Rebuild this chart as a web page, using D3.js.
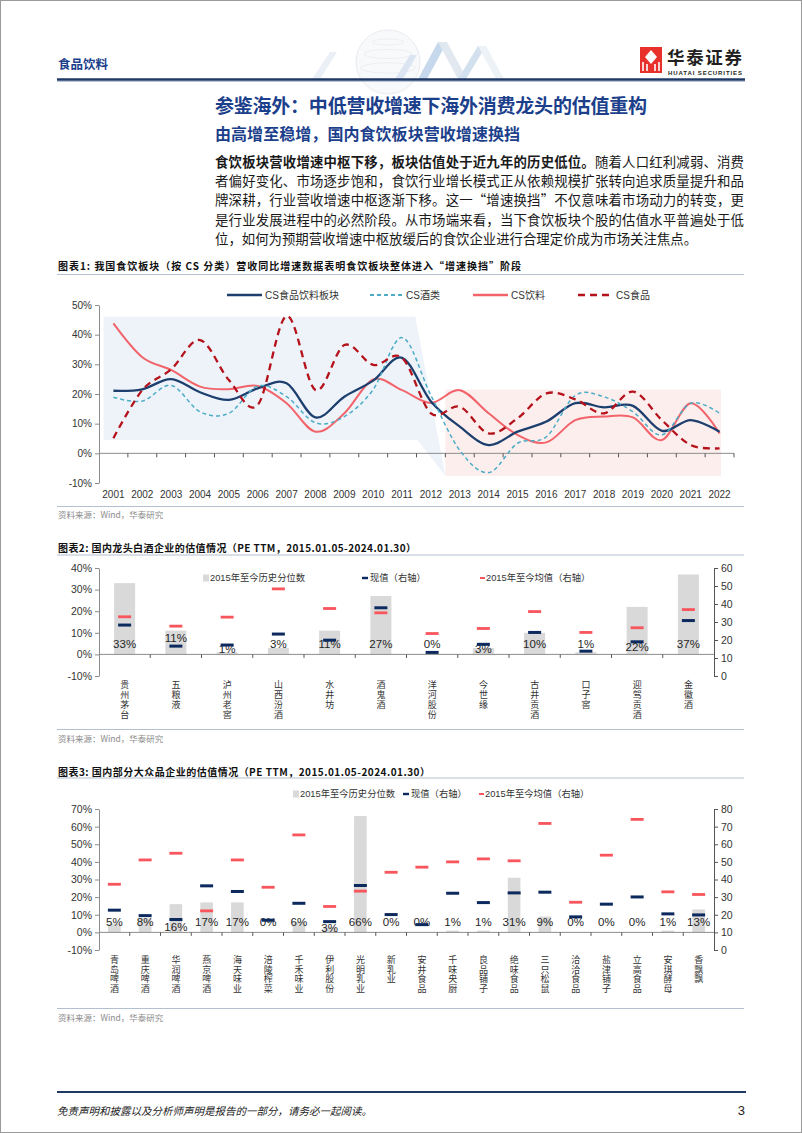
<!DOCTYPE html>
<html><head><meta charset="utf-8">
<script src="https://cdn.jsdelivr.net/npm/d3@7"></script>
<style>
body{margin:0;background:#fff}
svg{display:block}
text{font-family:"Liberation Sans","Noto Sans CJK SC",sans-serif}
</style>
</head><body>
<svg id="c" width="802" height="1133"></svg>
<script>
// ---------------- DATA ----------------
const years = d3.range(2001, 2023);
const seriesNames = ["CS食品饮料板块", "CS酒类", "CS饮料", "CS食品"];
const foodBev  = [21.1,21.6,25.0,20.6,18.0,21.9,23.6,12.1,19.1,24.5,32.2,17.5,9.0,2.8,7.3,10.7,16.9,15.5,16.0,7.6,11.2,7.3];
const liquor   = [18.9,17.6,22.9,14.0,13.5,22.7,19.1,10.3,12.4,21.5,39.0,19.5,1.0,-6.5,3.4,5.6,19.5,19.0,14.0,6.2,16.9,13.5];
const beverage = [43.8,32.4,28.1,22.5,21.6,22.7,16.9,7.3,13.5,24.9,21.3,17.0,21.3,13.5,6.2,3.7,11.2,12.4,12.1,4.5,16.9,6.7];
const food     = [5.1,21.3,28.3,38.2,24.7,16.3,46.3,21.3,36.5,29.8,32.2,13.5,15.7,6.7,11.8,20.2,18.2,13.5,20.8,11.2,2.8,1.7];
const pctTicks1 = [-10,0,10,20,30,40,50];

const baijiu = ["贵州茅台","五粮液","泸州老窖","山西汾酒","水井坊","酒鬼酒","洋河股份","今世缘","古井贡酒","口子窖","迎驾贡酒","金徽酒"];
const pct2 = [33,11,1,3,11,27,0,3,10,1,22,37];
const cur2 = [28.3,16.6,17.2,23.3,19.9,37.9,13.1,17.6,24.2,13.8,19.0,30.8];
const avg2 = [32.9,27.7,32.7,48.4,37.5,35.1,23.6,26.4,35.8,24.2,26.8,36.9];
const leftTicks2 = [-10,0,10,20,30,40];
const rightTicks2 = [0,10,20,30,40,50,60];

const mass = ["青岛啤酒","重庆啤酒","华润啤酒","燕京啤酒","海天味业","涪陵榨菜","千禾味业","伊利股份","光明乳业","新乳业","安井食品","千味央厨","良品铺子","绝味食品","三只松鼠","洽洽食品","盐津铺子","立高食品","安琪酵母","香飘飘"];
const pct3 = [5,8,16,17,17,0,6,3,66,0,0,1,1,31,9,0,0,0,1,13];
const cur3 = [22.6,19.5,17.3,36.4,33.2,16.9,26.5,16.1,36.6,20.1,14.4,32.2,26.9,32.4,32.8,18.8,26.0,30.1,20.5,19.9];
const avg3 = [37.3,51.1,54.9,22.2,51.1,35.6,65.3,24.7,33.4,44.1,47.0,50.0,51.7,50.6,71.8,27.1,53.8,74.1,33.0,31.5];
const leftTicks3 = [-10,0,10,20,30,40,50,60,70];
const rightTicks3 = [0,10,20,30,40,50,60,70,80];

const legendBar = ["2015年至今历史分位数","现值（右轴）","2015年至今均值（右轴）"];

// label nudges (layout only)
const nudge2 = {"五粮液":-6,"泸州老窖":5,"今世缘":5,"迎驾贡酒":3};
const nudge3 = {"华润啤酒":5,"伊利股份":6};

// ---------------- DRAW ----------------
const svg = d3.select("#c");
const CJK = '"Noto Sans CJK SC","Liberation Sans",sans-serif';
const BLUE_T = "#1c3f8c";
const NAVY = "#1f3864";
const AX = "#8c8c8c";

svg.append("rect").attr("x",0.5).attr("y",0.5).attr("width",801).attr("height",1132)
  .attr("fill","#fff").attr("stroke","#9a9a9a");

// header decoration (globe)
const deco = svg.append("g").attr("opacity",0.5);
deco.append("circle").attr("cx",388).attr("cy",62).attr("r",32).attr("fill","#f3f5f8").attr("stroke","#c9ced6").attr("stroke-width",0.8);
[[-20,0.5],[-8,0.75],[6,0.85]].forEach(([dy,s])=>{
  deco.append("ellipse").attr("cx",388).attr("cy",62+dy).attr("rx",32*s).attr("ry",6*s)
   .attr("fill","none").attr("stroke","#c9ced6").attr("stroke-width",0.6);
});
deco.append("path").attr("d","M418,79 L438,42 L447,42 L427,79 Z").attr("fill","#8fb3da");
deco.append("path").attr("d","M438,42 L458,79 L467,79 L447,42 Z").attr("fill","#c4d3e3");
deco.append("path").attr("d","M458,79 L478,46 L486,46 L466,79 Z").attr("fill","#a9c3de");
deco.append("path").attr("d","M478,46 L496,79 L504,79 L486,46 Z").attr("fill","#dde6ef");
deco.append("path").attr("d","M312,79 L330,52 L337,52 L320,79 Z").attr("fill","#d6e2ee");
deco.append("path").attr("d","M395,79 L410,55 L417,55 L403,79 Z").attr("fill","#b8cde4");

// header text
svg.append("text").attr("x",58).attr("y",63).attr("dominant-baseline","central")
  .style("font-family",CJK).style("font-size","12.5px").style("font-weight","bold").attr("fill",BLUE_T).text("食品饮料");
svg.append("line").attr("x1",57).attr("x2",745).attr("y1",79.5).attr("y2",79.5).attr("stroke",NAVY).attr("stroke-width",2.5);
svg.append("line").attr("x1",57).attr("x2",745).attr("y1",81.5).attr("y2",81.5).attr("stroke","#b9c7dc").attr("stroke-width",1);

// logo
const logo = svg.append("g");
logo.append("rect").attr("x",640).attr("y",47).attr("width",22).attr("height",26).attr("fill","#e8312a");
logo.append("path").attr("d","M651,50 L657,57 L651,64 L645,57 Z").attr("fill","#fff");
logo.append("path").attr("d","M643,62 L643,71 M647,64 L647,71 M655,64 L655,71 M659,62 L659,71").attr("stroke","#fff").attr("stroke-width",1.6);
logo.append("text").attr("x",667).attr("y",63.5)
  .style("font-family",CJK).style("font-size","17.5px").style("font-weight","bold").attr("fill","#231f20")
  .attr("textLength",75).text("华泰证券");
logo.append("text").attr("x",668).attr("y",75.2)
  .style("font-size","6px").style("font-weight","bold").attr("fill","#231f20").attr("textLength",74).text("HUATAI SECURITIES");

// titles
svg.append("text").attr("x",215).attr("y",104).attr("dominant-baseline","central")
  .style("font-family",CJK).style("font-size","19px").style("font-weight","bold").attr("fill",BLUE_T)
  .attr("textLength",432).text("参鉴海外：中低营收增速下海外消费龙头的估值重构");
svg.append("text").attr("x",215).attr("y",133).attr("dominant-baseline","central")
  .style("font-family",CJK).style("font-size","16px").style("font-weight","bold").attr("fill",BLUE_T)
  .attr("textLength",305).text("由高增至稳增，国内食饮板块营收增速换挡");

const para = [
  [["食饮板块营收增速中枢下移，板块估值处于近九年的历史低位。",true],["随着人口红利减弱、消费",false]],
  [["者偏好变化、市场逐步饱和，食饮行业增长模式正从依赖规模扩张转向追求质量提升和品",false]],
  [["牌深耕，行业营收增速中枢逐渐下移。这一“增速换挡”不仅意味着市场动力的转变，更",false]],
  [["是行业发展进程中的必然阶段。从市场端来看，当下食饮板块个股的估值水平普遍处于低",false]],
  [["位，如何为预期营收增速中枢放缓后的食饮企业进行合理定价成为市场关注焦点。",false]]
];
para.forEach((segs,i)=>{
  const t = svg.append("text").attr("x",215).attr("y",160.5+i*19.4).attr("dominant-baseline","central")
    .style("font-family",CJK).style("font-size","13.4px").attr("fill","#1a1a1a");
  if(i<4) t.attr("textLength",529).attr("lengthAdjust","spacing");
  segs.forEach(([s,b])=>t.append("tspan").style("font-weight",b?"bold":"normal").text(s));
});

function chartHeader(y, text, len, lineY){
  svg.append("text").attr("x",58).attr("y",y).attr("dominant-baseline","central")
    .style("font-family",CJK).style("font-size","10px").style("font-weight","bold").attr("fill","#111")
    .attr("textLength",len).text(text);
  svg.append("line").attr("x1",57).attr("x2",744).attr("y1",lineY).attr("y2",lineY).attr("stroke","#b4bfcf").attr("stroke-width",1);
}
function source(lineY, textY){
  svg.append("line").attr("x1",57).attr("x2",744).attr("y1",lineY).attr("y2",lineY).attr("stroke","#b4bfcf").attr("stroke-width",1.2);
  svg.append("text").attr("x",58).attr("y",textY).attr("dominant-baseline","central")
    .style("font-family",CJK).style("font-size","8.5px").attr("fill","#8a8a8a").text("资料来源：Wind，华泰研究");
}

// ---------------- CHART 1 ----------------
chartHeader(265,"图表1:  我国食饮板块（按 CS 分类）营收同比增速数据表明食饮板块整体进入“增速换挡”阶段",463,274.5);
source(506.5,513.5);
{
  const g = svg.append("g");
  const x = d3.scaleBand().domain(years).range([99,734]);
  const bw = x.bandwidth();
  const xc = d => x(d)+bw/2;
  const xv = d3.scaleLinear().domain([2001,2022]).range([xc(2001),xc(2022)]);
  const y = d3.scaleLinear().domain([-10,50]).range([483,305]);

  // shaded phases
  g.append("path").attr("fill","#eef3fa")
    .attr("d", d3.line()([[xv(2000.66),y(46)],[xv(2011.46),y(46)],[xv(2012.5),y(-7.6)],[xv(2011.53),y(4.5)],[xv(2000.66),y(4.5)]]));
  g.append("rect").attr("fill","#fdeeee")
    .attr("x",xv(2012.5)).attr("width",xv(2022.05)-xv(2012.5))
    .attr("y",y(21.5)).attr("height",y(-7.6)-y(21.5));

  // left axis
  const ya = g.append("g").attr("transform","translate(99,0)")
    .call(d3.axisLeft(y).tickValues(pctTicks1).tickFormat(d=>d+"%").tickSize(4).tickSizeOuter(0));
  ya.select(".domain").attr("stroke",AX);
  ya.selectAll(".tick line").attr("stroke",AX);
  ya.selectAll(".tick text").attr("fill","#333").style("font-size","10px").attr("x",-7);

  // zero axis
  g.append("line").attr("x1",99).attr("x2",734).attr("y1",y(0)).attr("y2",y(0)).attr("stroke",AX);
  years.forEach((d,i)=>{ if(i>0) g.append("line").attr("x1",x(d)).attr("x2",x(d)).attr("y1",y(0)).attr("y2",y(0)+4).attr("stroke","#555"); });
  g.append("line").attr("x1",734).attr("x2",734).attr("y1",y(0)).attr("y2",y(0)+4).attr("stroke","#555");
  years.forEach(d=>{
    g.append("text").attr("x",xc(d)).attr("y",494).attr("text-anchor","middle").attr("dominant-baseline","central")
      .style("font-size","10px").attr("fill","#333").text(d);
  });

  const styles = [
    {data:foodBev, stroke:"#1d3f6e", w:2.3, dash:null},
    {data:liquor, stroke:"#4bacc6", w:1.5, dash:"4,3"},
    {data:beverage, stroke:"#f2636a", w:2, dash:null},
    {data:food, stroke:"#b5121b", w:2.3, dash:"7,5"}
  ];
  const line = d3.line().x((d,i)=>xc(years[i])).y(d=>y(d)).curve(d3.curveCatmullRom.alpha(0));
  [2,0,1,3].forEach(k=>{
    const s = styles[k];
    g.append("path").datum(s.data).attr("d",line).attr("fill","none")
      .attr("stroke",s.stroke).attr("stroke-width",s.w).attr("stroke-dasharray",s.dash);
  });

  // legend
  const lx = [[227,262],[370,403],[473,508],[578,613]];
  seriesNames.forEach((n,i)=>{
    const s = styles[i];
    g.append("line").attr("x1",lx[i][0]).attr("x2",lx[i][1]).attr("y1",295).attr("y2",295)
      .attr("stroke",s.stroke).attr("stroke-width",s.w+0.3).attr("stroke-dasharray",s.dash);
    g.append("text").attr("x",lx[i][1]+3).attr("y",295).attr("dominant-baseline","central")
      .style("font-size","10px").attr("fill","#333").text(n);
  });
}

// ---------------- BAR + MARK CHARTS ----------------
function markChart(cfg){
  const g = svg.append("g");
  const x = d3.scaleBand().domain(cfg.cats).range([99,714]);
  const bw = x.bandwidth();
  const xc = d => x(d)+bw/2;
  const yl = d3.scaleLinear().domain(cfg.lDomain).range([cfg.yBot,cfg.yTop]);
  const yr = d3.scaleLinear().domain(cfg.rDomain).range([cfg.yBot,cfg.yTop]);
  const barW = bw*0.41, markW = 13;

  const la = g.append("g").attr("transform","translate(99,0)")
    .call(d3.axisLeft(yl).tickValues(cfg.lTicks).tickFormat(d=>d+"%").tickSize(4).tickSizeOuter(0));
  la.select(".domain").attr("stroke",AX);
  la.selectAll(".tick line").attr("stroke",AX);
  la.selectAll(".tick text").attr("fill","#333").style("font-size","10.5px").attr("x",-7);
  const ra = g.append("g").attr("transform","translate(714,0)")
    .call(d3.axisRight(yr).tickValues(cfg.rTicks).tickSize(4).tickSizeOuter(0));
  ra.select(".domain").attr("stroke","#555");
  ra.selectAll(".tick line").attr("stroke","#555");
  ra.selectAll(".tick text").attr("fill","#333").style("font-size","10.5px").attr("x",7);

  // bars
  g.selectAll(".bar").data(cfg.cats).enter().append("rect")
    .attr("x",d=>xc(d)-barW/2).attr("width",barW)
    .attr("y",(d,i)=>yl(cfg.pct[i])).attr("height",(d,i)=>yl(0)-yl(cfg.pct[i]))
    .attr("fill","#d9d9d9");

  // zero axis
  g.append("line").attr("x1",99).attr("x2",714).attr("y1",yl(0)).attr("y2",yl(0)).attr("stroke",AX);
  cfg.cats.forEach((d,i)=>{ if(i>0) g.append("line").attr("x1",x(d)).attr("x2",x(d)).attr("y1",yl(0)).attr("y2",yl(0)+3.5).attr("stroke","#555"); });

  // labels
  cfg.cats.forEach((d,i)=>{
    g.append("text").attr("x",xc(d)).attr("y",cfg.labelY+(cfg.nudge[d]||0)).attr("text-anchor","middle")
      .attr("dominant-baseline","central").style("font-size","11.5px").attr("fill","#262626").text(cfg.pct[i]+"%");
  });

  // marks
  cfg.cats.forEach((d,i)=>{
    g.append("rect").attr("x",xc(d)-markW/2).attr("width",markW).attr("y",yr(cfg.avg[i])-1.4).attr("height",2.8).attr("fill","#f8555d");
    g.append("rect").attr("x",xc(d)-markW/2).attr("width",markW).attr("y",yr(cfg.cur[i])-1.5).attr("height",3).attr("fill","#0d2a5e");
  });

  // category labels (vertical, one text per label)
  cfg.cats.forEach(d=>{
    g.append("text").attr("x",xc(d)).attr("y",cfg.catY0-4.5)
      .style("writing-mode","vertical-rl").style("text-orientation","upright")
      .style("letter-spacing",(cfg.catStep-9)+"px")
      .style("font-family",CJK).style("font-size","9px").attr("fill","#333").text(d);
  });

  // legend
  const L = cfg.leg, ly = cfg.legendY, fs = "9.3px";
  g.append("rect").attr("x",L[0]).attr("y",ly-3.5).attr("width",6).attr("height",7).attr("fill","#d9d9d9");
  g.append("text").attr("x",L[0]+7).attr("y",ly).attr("dominant-baseline","central").style("font-size",fs).attr("fill","#333").text(legendBar[0]);
  g.append("rect").attr("x",L[1]).attr("y",ly-1.2).attr("width",6).attr("height",2.4).attr("fill","#0d2a5e");
  g.append("text").attr("x",L[1]+8).attr("y",ly).attr("dominant-baseline","central").style("font-size",fs).attr("fill","#333").text(legendBar[1]);
  g.append("rect").attr("x",L[2]).attr("y",ly-1).attr("width",5).attr("height",2).attr("fill","#f8555d");
  g.append("text").attr("x",L[2]+6).attr("y",ly).attr("dominant-baseline","central").style("font-size",fs).attr("fill","#333").text(legendBar[2]);
}

chartHeader(547,"图表2:  国内龙头白酒企业的估值情况（PE TTM，2015.01.05-2024.01.30）",358,555);
markChart({cats:baijiu,pct:pct2,cur:cur2,avg:avg2,lDomain:[-10,40],rDomain:[0,60],lTicks:leftTicks2,rTicks:rightTicks2,
  yTop:568,yBot:676,labelY:644,nudge:nudge2,catY0:685,catStep:10,legendY:578,leg:[203,362,480]});
source(729.5,737.5);

chartHeader(771.5,"图表3:  国内部分大众品企业的估值情况（PE TTM，2015.01.05-2024.01.30）",372,778);
markChart({cats:mass,pct:pct3,cur:cur3,avg:avg3,lDomain:[-10,70],rDomain:[0,80],lTicks:leftTicks3,rTicks:rightTicks3,
  yTop:809,yBot:950,labelY:921.5,nudge:nudge3,catY0:960,catStep:9.5,legendY:794,leg:[293,403,479]});
source(1008.5,1017);

// footer
svg.append("line").attr("x1",57).attr("x2",746).attr("y1",1092).attr("y2",1092).attr("stroke",NAVY).attr("stroke-width",2.2);
svg.append("text").attr("x",57).attr("y",1110).attr("dominant-baseline","central")
  .style("font-family",CJK).style("font-size","10.5px").style("font-style","italic").attr("fill","#222")
  .text("免责声明和披露以及分析师声明是报告的一部分，请务必一起阅读。");
svg.append("text").attr("x",745).attr("y",1110).attr("text-anchor","end").attr("dominant-baseline","central")
  .style("font-size","13px").attr("fill","#222").text("3");
</script>
</body></html>
